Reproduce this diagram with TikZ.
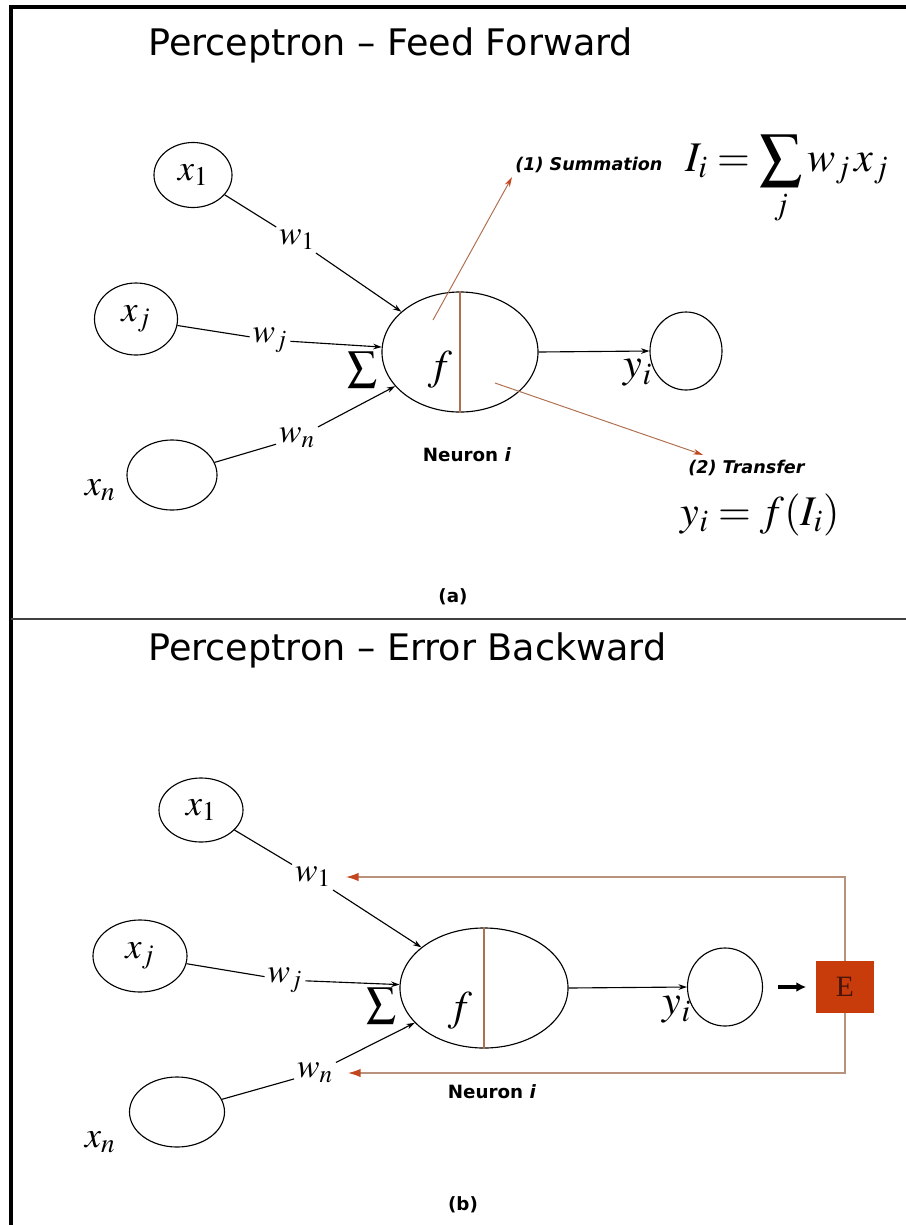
\documentclass[tikz,border=0pt]{standalone}
\usepackage{mathptmx}
\usepackage[no-math]{fontspec}
\setmainfont{DejaVu Sans}
\newfontfamily\serifE{Liberation Serif}
\usepackage{tikz}
\usetikzlibrary{shapes.geometric,arrows.meta,positioning}
\definecolor{brn}{RGB}{176,112,80}
\definecolor{brtip}{RGB}{196,70,30}
\definecolor{fbline}{RGB}{184,146,124}
\definecolor{errred}{RGB}{200,60,12}
\definecolor{errtxt}{RGB}{70,20,8}

\begin{document}
\begin{tikzpicture}[x=0.025cm, y=-0.025cm,
  every node/.style={inner sep=0pt},
  inp/.style={draw, ellipse, line width=0.8pt, font=\fontsize{26}{28}\selectfont},
  neur/.style={draw, ellipse, line width=0.8pt},
  wlbl/.style={inner sep=2pt, font=\fontsize{24}{26}\selectfont},
  big/.style={font=\fontsize{30}{32}\selectfont},
  sig/.style={font=\fontsize{30}{32}\selectfont},
  ttl/.style={anchor=west, font=\fontsize{26}{28}\selectfont},
  lbl/.style={font=\fontsize{13}{15}\selectfont\bfseries},
  subcap/.style={font=\fontsize{13}{15}\selectfont\bfseries},
  note/.style={anchor=west, font=\fontsize{12.5}{14}\selectfont\bfseries\itshape},
  conn/.style={line width=0.8pt},
  inarr/.style={conn, -{Stealth[length=6pt,width=4pt]}},
  brarr/.style={draw=brn, line width=0.7pt, -{Stealth[length=7pt,width=4pt,color=brtip]}},
  fbarr/.style={draw=fbline, line width=1pt, -{Latex[length=9pt,width=6pt,color=brtip]}}
]
\useasboundingbox (0,0) rectangle (906,1225);

%% frame
\draw[line width=3pt] (906,7) -- (11,7) -- (11,1225);
\draw[line width=1.5pt, black!75] (11,619) -- (906,619);

%% (a) Feed forward
\node[ttl] (ttla) at (148,45) {Perceptron – Feed Forward};
\node[inp, minimum width=1.95cm, minimum height=1.625cm] (xa1) at (193,175) {$x_1$};
\node[inp, minimum width=2.075cm, minimum height=1.8cm] (xaj) at (136,319) {$x_j$};
\node[inp, minimum width=2.25cm, minimum height=1.75cm] (xan) at (172,475) {};
\node[inp, draw=none] (lxan) at (100,490) {$x_n$};
\node[neur, minimum width=3.9cm, minimum height=3cm] (na) at (460,352) {};
\draw[brn, line width=0.8pt] (na.north) -- (na.south);
\node[big] (fa) at (440,370) {$f$};
\node[sig] (sga) at (363,370) {$\sum$};
\node[wlbl] (wa1) at (297,240) {$w_1$};
\node[wlbl] (waj) at (270,340) {$w_j$};
\node[wlbl] (wan) at (297,438) {$w_n$};
\draw[conn] (xa1) -- (wa1);  \draw[inarr] (wa1) -- (na);
\draw[conn] (xaj) -- (waj);  \draw[inarr] (waj) -- (na);
\draw[conn] (xan) -- (wan);  \draw[inarr] (wan) -- (na);
\node[inp, minimum width=1.8cm, minimum height=1.95cm] (oa) at (686,351) {};
\draw[inarr] (na.east) -- (oa.west);
\node[big] (ya) at (638,373) {$y_i$};
\coordinate (sa) at (433,320);
\node[note] (suma) at (515,165) {(1) Summation};
\draw[brarr] (sa) -- ([shift={(-3,4)}]suma.south west);
\node[big] (fia) at (787,180) {$\displaystyle I_i = \sum_j w_j\, x_j$};
\coordinate (ta) at (495,383);
\node[note] (tra) at (688,468) {(2) Transfer};
\draw[brarr] (ta) -- ([shift={(15,-5)}]tra.north west);
\node[big] (fya) at (760,515) {$y_i = f(I_i)$};
\node[lbl] (lna) at (467,455) {Neuron \textit{i}};
\node[subcap] (capa) at (453,597) {(a)};

%% (b) Error backward
\node[ttl] (ttlb) at (148,650) {Perceptron – Error Backward};
\node[inp, minimum width=2.1cm, minimum height=1.6cm] (xb1) at (201,810) {$x_1$};
\node[inp, minimum width=2.35cm, minimum height=1.8cm] (xbj) at (140,956) {$x_j$};
\node[inp, minimum width=2.375cm, minimum height=1.75cm] (xbn) at (177,1112) {};
\node[inp, draw=none] (lxbn) at (100,1142) {$x_n$};
\node[neur, minimum width=4.2cm, minimum height=3cm] (nb) at (484,988) {};
\draw[brn, line width=0.8pt] (nb.north) -- (nb.south);
\node[big] (fb) at (460,1011) {$f$};
\node[sig] (sgb) at (382,1006) {$\sum$};
\node[wlbl] (wb1) at (313,877) {$w_1$};
\node[wlbl] (wbj) at (285,980) {$w_j$};
\node[wlbl] (wbn) at (315,1073) {$w_n$};
\draw[conn] (xb1) -- (wb1);  \draw[inarr] (wb1) -- (nb);
\draw[conn] (xbj) -- (wbj);  \draw[inarr] (wbj) -- (nb);
\draw[conn] (xbn) -- (wbn);  \draw[inarr] (wbn) -- (nb);
\node[inp, minimum width=1.875cm, minimum height=1.95cm] (ob) at (725,987) {};
\draw[inarr] (nb.east) -- (ob.west);
\node[big] (yb) at (677,1010) {$y_i$};
\node[lbl] (lnb) at (492,1092) {Neuron \textit{i}};
\node[draw=errred, fill=errred, minimum width=1.425cm, minimum height=1.275cm,
      font=\serifE\fontsize{21}{23}\selectfont, text=errtxt] (err) at (845,987) {E};
\draw[fbarr] (err.north) |- ([shift={(12,0)}]wb1.east);
\draw[fbarr] (err.south) |- ([shift={(12,0)}]wbn.east);
\draw[line width=2.2pt, -{Latex[length=7pt,width=7pt]}, shorten <=0.375cm, shorten >=0.25cm] (ob) -- (err);
\node[subcap] (capb) at (463,1205) {(b)};
\end{tikzpicture}
\end{document}
